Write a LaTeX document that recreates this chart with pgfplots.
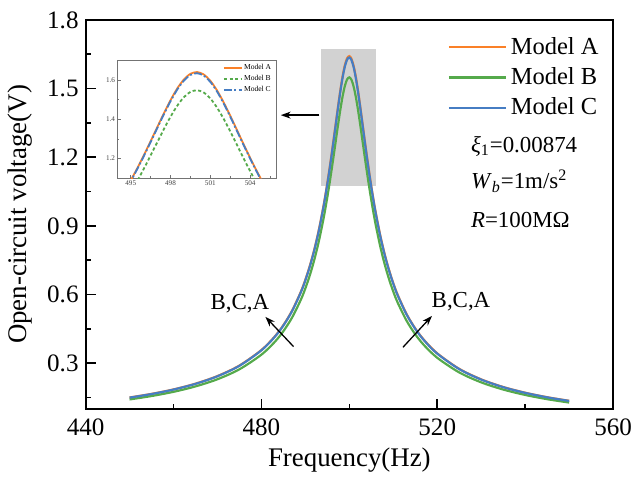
\documentclass[border=0pt]{standalone}
\usepackage{pgfplots}
\pgfplotsset{compat=1.18}
\usepackage{pgfplotstable}
\usetikzlibrary{arrows.meta}
\usepackage{fontspec}
\setmainfont{Liberation Serif}
\definecolor{cA}{RGB}{250,128,40}
\definecolor{cB}{RGB}{85,170,75}
\definecolor{cC}{RGB}{70,125,195}

\pgfplotstableread{
f A B C
450 0.1506 0.1420 0.1500
455 0.1663 0.1569 0.1657
460 0.1858 0.1753 0.1852
465 0.2109 0.1990 0.2102
470 0.2442 0.2303 0.2433
475 0.2902 0.2738 0.2891
480 0.3580 0.3377 0.3567
483 0.4163 0.3927 0.4148
485 0.4668 0.4404 0.4651
487 0.5308 0.5007 0.5289
489 0.6139 0.5791 0.6117
490 0.6652 0.6275 0.6628
491 0.7250 0.6839 0.7223
492 0.7950 0.7500 0.7921
493 0.8774 0.8277 0.8742
494 0.9746 0.9194 0.9710
494.5 1.0293 0.9710 1.0256
495 1.0884 1.0267 1.0844
495.5 1.1516 1.0864 1.1474
496 1.2187 1.1497 1.2143
496.5 1.2889 1.2159 1.2842
497 1.3605 1.2835 1.3556
497.5 1.4315 1.3505 1.4263
498 1.4985 1.4137 1.4930
498.5 1.5575 1.4693 1.5518
499 1.6037 1.5129 1.5979
499.5 1.6330 1.5405 1.6270
500 1.6420 1.5490 1.6360
500.5 1.6297 1.5374 1.6238
501 1.5975 1.5070 1.5917
501.5 1.5487 1.4610 1.5430
502 1.4876 1.4034 1.4822
502.5 1.4190 1.3387 1.4138
503 1.3469 1.2706 1.3420
503.5 1.2744 1.2022 1.2698
504 1.2038 1.1356 1.1994
504.5 1.1363 1.0720 1.1322
505 1.0729 1.0121 1.0689
505.5 1.0137 0.9563 1.0100
506 0.9590 0.9046 0.9554
507 0.8618 0.8130 0.8587
508 0.7795 0.7353 0.7766
509 0.7096 0.6694 0.7070
510 0.6499 0.6131 0.6475
511 0.5988 0.5648 0.5966
513 0.5158 0.4866 0.5139
515 0.4520 0.4264 0.4503
517 0.4016 0.3788 0.4001
520 0.3433 0.3239 0.3421
525 0.2756 0.2600 0.2746
530 0.2297 0.2166 0.2288
535 0.1964 0.1853 0.1957
540 0.1714 0.1617 0.1708
545 0.1518 0.1432 0.1513
550 0.1361 0.1284 0.1356
}\data

\begin{document}
\begin{tikzpicture}
\useasboundingbox (-43pt,-35pt) rectangle (275pt,205.5pt);
\begin{axis}[
  name=main,
  scale only axis, width=265pt, height=195.5pt,
  xmin=440, xmax=560, ymin=0.1, ymax=1.8,
  xtick={440,480,520,560}, minor xtick={460,500,540},
  ytick={0.3,0.6,0.9,1.2,1.5,1.8}, minor ytick={0.15,0.45,0.75,1.05,1.35,1.65},
  tick pos=left, tick align=inside,
  major tick length=5pt, minor tick length=2.75pt,
  axis line style={line width=1pt},
  every tick/.style={line width=0.8pt, black},
  /pgf/number format/assume math mode=true,
  yticklabel style={/pgf/number format/.cd, fixed, fixed zerofill, precision=1},
  xticklabel style={yshift=-1.5pt, /pgf/number format/.cd, fixed, precision=0, 1000 sep={}},
  tick label style={font=\rmfamily\fontsize{12.6}{15}\selectfont},
  xlabel={Frequency(Hz)}, ylabel={Open-circuit voltage(V)},
  label style={font=\rmfamily\fontsize{13.5}{16}\selectfont},
  xlabel style={at={(axis description cs:0.5,-0.13)}, anchor=center},
  ylabel style={at={(axis description cs:-0.125,0.5)}, anchor=center},
  legend style={draw=none, fill=none, at={(0.686,0.967)}, anchor=north west,
    font=\rmfamily\fontsize{12.3}{14}\selectfont, row sep=1.2pt, inner sep=0pt},
  legend image code/.code={\draw[#1] (0pt,0pt) -- (28.5pt,0pt);},
  legend cell align=left,
]
\fill[gray!35] (axis cs:493.5,1.073) rectangle (axis cs:506,1.673);
\addplot[cA, line width=1.1pt, smooth] table[x=f, y=A] {\data};
\addlegendentry{Model A}
\addplot[cB, line width=1.1pt, smooth] table[x=f, y=B] {\data};
\addlegendentry{Model B}
\addplot[cC, line width=1.1pt, smooth] table[x=f, y=C] {\data};
\addlegendentry{Model C}
\draw[line width=0.65pt, -{Stealth[length=5pt,width=3.5pt]}] (axis cs:493.2,1.384) -- (axis cs:484.4,1.384);
\draw[line width=0.65pt, -{Stealth[length=5pt,width=3.5pt]}] (axis cs:487.3,0.373) -- (axis cs:480.9,0.503);
\draw[line width=0.65pt, -{Stealth[length=5pt,width=3.5pt]}] (axis cs:512.2,0.370) -- (axis cs:518.8,0.507);
\node[font=\rmfamily\fontsize{11.5}{13}\selectfont] at (axis cs:475.1,0.561) {B,C,A};
\node[font=\rmfamily\fontsize{11.5}{13}\selectfont] at (axis cs:525.4,0.570) {B,C,A};
\node[anchor=west, inner sep=0pt, font=\rmfamily\fontsize{11.5}{13}\selectfont] at (axis cs:527.6,1.249) {\textit{ξ}\textsubscript{1}=0.00874};
\node[anchor=west, inner sep=0pt, font=\rmfamily\fontsize{11.5}{13}\selectfont] at (axis cs:527.6,1.096) {\textit{W}\textsubscript{\textit{b}}=1m/s\textsuperscript{2}};
\node[anchor=west, inner sep=0pt, font=\rmfamily\fontsize{11.5}{13}\selectfont] at (axis cs:527.6,0.925) {\textit{R}=100MΩ};
\end{axis}
\begin{axis}[
  at={(16pt,116pt)}, anchor=south west,
  scale only axis, width=80pt, height=59pt,
  xmin=494, xmax=506, ymin=1.1, ymax=1.7,
  xtick={495,498,501,504}, minor xtick={496.5,499.5,502.5,505.5},
  ytick={1.2,1.4,1.6}, minor ytick={1.3,1.5},
  tick pos=left, tick align=inside,
  major tick length=1.6pt, minor tick length=1pt,
  axis line style={line width=0.6pt, gray!90!black},
  every tick/.style={line width=0.4pt, gray!90!black},
  axis background/.style={fill=white},
  /pgf/number format/assume math mode=true,
  yticklabel style={/pgf/number format/.cd, fixed, fixed zerofill, precision=1},
  xticklabel style={/pgf/number format/.cd, fixed, precision=0, 1000 sep={}},
  tick label style={font=\rmfamily\fontsize{3.6}{4}\selectfont, text=black!75, inner sep=1pt},
  legend style={draw=none, fill=none, at={(0.66,0.985)}, anchor=north west,
    font=\rmfamily\fontsize{3.8}{4.5}\selectfont, row sep=0.2pt, inner sep=0pt,
    nodes={inner sep=0.6pt}},
  legend image code/.code={\draw[#1, line width=1pt] (0pt,0pt) -- (9pt,0pt);},
  legend cell align=left,
]
\addplot[cA, line width=0.9pt, smooth] table[x=f, y=A] {\data};
\addlegendentry{Model A}
\addplot[cB, line width=0.9pt, smooth, dash pattern=on 1.6pt off 1.2pt] table[x=f, y=B] {\data};
\addlegendentry{Model B}
\addplot[cC, line width=0.9pt, smooth, dash pattern=on 4pt off 1.2pt on 1pt off 1.2pt] table[x=f, y=C] {\data};
\addlegendentry{Model C}
\end{axis}
\end{tikzpicture}
\end{document}
